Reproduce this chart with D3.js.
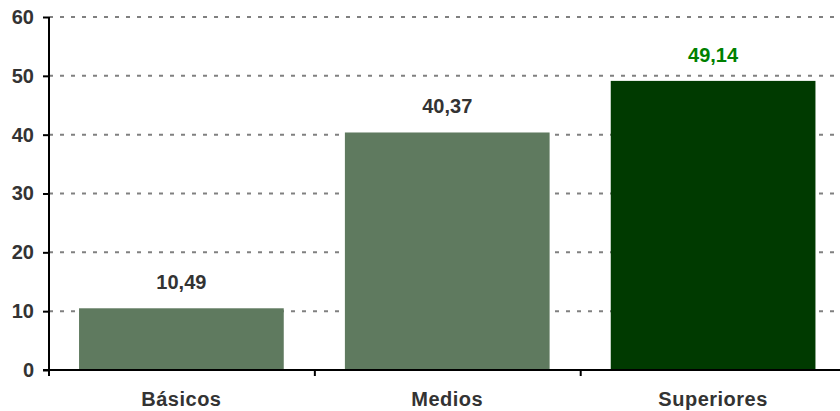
<!DOCTYPE html>
<html><head><meta charset="utf-8">
<script src="https://cdn.jsdelivr.net/npm/d3@7"></script>
<style>body{margin:0;background:#fff}svg{display:block}</style>
</head><body>
<svg id="c" width="840" height="411"></svg>
<script>
const categories = ["Básicos", "Medios", "Superiores"];
const values = [10.49, 40.37, 49.14];
const valueLabels = ["10,49", "40,37", "49,14"];
const yTicks = [0, 10, 20, 30, 40, 50, 60];

(function () {
const svg = d3.select("#c");
const mLeft = 49, mRight = 845.5, mTop = 17, mBottom = 370;
const font = "'Liberation Sans', Arial, sans-serif";

const x = d3.scaleBand().domain(categories).range([mLeft, mRight]).paddingInner(0.23).paddingOuter(0.113);
const y = d3.scaleLinear().domain([0, 60]).range([mBottom, mTop]);

// grid
svg.append("g").selectAll("line").data(yTicks.filter(d => d > 0)).join("line")
  .attr("x1", mLeft).attr("x2", 840)
  .attr("y1", d => y(d)).attr("y2", d => y(d))
  .attr("stroke", "#808080").attr("stroke-width", 2).attr("stroke-dasharray", "4,7");

// bars
svg.append("g").selectAll("rect").data(categories).join("rect")
  .attr("x", d => x(d)).attr("width", x.bandwidth())
  .attr("y", (d, i) => y(values[i])).attr("height", (d, i) => y(0) - y(values[i]))
  .attr("fill", (d, i) => i === 2 ? "#003A00" : "#5F7A5F");

// value labels
svg.append("g").selectAll("text").data(categories).join("text")
  .attr("x", d => x(d) + x.bandwidth() / 2)
  .attr("y", (d, i) => y(values[i]) - 19)
  .attr("text-anchor", "middle")
  .attr("font-family", font).attr("font-weight", "bold").attr("font-size", 20)
  .attr("fill", (d, i) => i === 2 ? "#008000" : "#333333")
  .text((d, i) => valueLabels[i]);

// y axis
const yAxis = svg.append("g").attr("transform", `translate(${mLeft},0)`)
  .call(d3.axisLeft(y).tickValues(yTicks).tickSize(6).tickPadding(9).tickFormat(d3.format("d")));
yAxis.select(".domain").attr("stroke", "#000").attr("stroke-width", 2).attr("d", `M0,${mTop}V${mBottom}`);
yAxis.selectAll(".tick line").attr("stroke", "#000").attr("stroke-width", 2);
yAxis.selectAll(".tick text").attr("font-family", font).attr("font-weight", "bold")
  .attr("font-size", 20).attr("fill", "#333333");

// x axis
const xAxis = svg.append("g").attr("transform", `translate(0,${mBottom})`);
xAxis.append("line").attr("x1", mLeft - 6).attr("x2", 840).attr("y1", 0).attr("y2", 0)
  .attr("stroke", "#000").attr("stroke-width", 2);
const bounds = categories.map(c => x(c) - x.step() * x.paddingOuter()).concat([mRight]);
xAxis.selectAll("line.t").data(bounds).join("line").attr("class", "t")
  .attr("x1", d => d).attr("x2", d => d).attr("y1", 0).attr("y2", 6)
  .attr("stroke", "#000").attr("stroke-width", 2);
xAxis.selectAll("text").data(categories).join("text")
  .attr("x", d => x(d) + x.bandwidth() / 2).attr("y", 36)
  .attr("text-anchor", "middle")
  .attr("font-family", font).attr("font-weight", "bold").attr("font-size", 20)
  .attr("fill", "#333333").attr("letter-spacing", 0.5)
  .text(d => d);
})();
</script>
</body></html>
